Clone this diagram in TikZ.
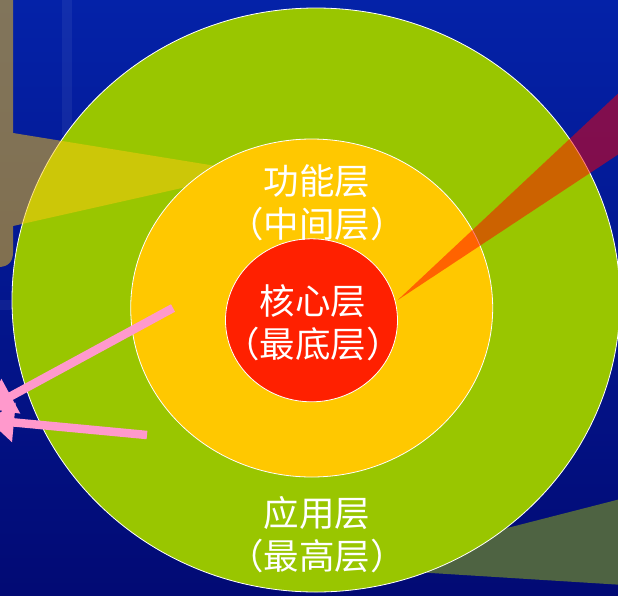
\documentclass[tikz,border=0pt]{standalone}
\usepackage{fontspec}
\newfontfamily\cjk{Noto Sans CJK SC}
\usetikzlibrary{shapes.geometric,arrows.meta}
\definecolor{navytop}{RGB}{4,34,168}
\definecolor{navybot}{RGB}{2,10,116}
\definecolor{lime}{RGB}{153,198,0}
\definecolor{amber}{RGB}{255,200,0}
\definecolor{corered}{RGB}{255,32,0}
\definecolor{gold}{RGB}{255,200,16}
\definecolor{olivegray}{RGB}{78,99,66}
\definecolor{pinkline}{RGB}{255,153,204}
\tikzset{
  layer/.style={ellipse, draw=white, line width=0.8pt, inner sep=0pt},
  label/.style={text=white, align=center, font=\cjk\fontsize{35.5}{43}\selectfont, inner sep=0pt},
  pinkarrow/.style={draw=pinkline, line width=8.5pt, -{Triangle[length=26pt,width=38pt]}},
}
\begin{document}
\begin{tikzpicture}[x=1pt,y=-1pt]
\useasboundingbox (0,0) rectangle (618,595);
\clip (0,0) rectangle (618,595);
% background
\fill[top color=navytop,bottom color=navybot] (0,0) rectangle (618,595);
\fill[white,opacity=0.06] (62,0) rectangle (72,135);
\fill[white,opacity=0.05] (0,300) rectangle (14,310);
% lower right wedge (under the outer layer)
\fill[olivegray] (351,568) -- (640,494) -- (640,586) -- cycle;
% outer layer
\node[layer, fill=lime, minimum width=608pt, minimum height=584pt] (app) at (316,300) {};
% left translucent band
\fill[gold, opacity=0.5] (-2,-2) -- (13,-2) -- (13,133) -- (253,172) -- (13,226) -- (13,252)
  .. controls (13,262) and (8,267) .. (-2,267) -- cycle;
% middle layer
\node[layer, fill=amber, minimum width=362pt, minimum height=338pt] (func) at (311.7,308) {};
% right translucent band
\fill[red, opacity=0.5] (397.8,300) -- (640,73) -- (640,140) -- cycle;
% core
\node[layer, fill=corered, minimum width=172pt, minimum height=163pt] (core) at (311.5,320.3) {};
% labels
\node[label] (tfunc) at (317,202.5) {功能层\\（中间层）};
\node[label] (tcore) at (313,322.5) {核心层\\（最底层）};
\node[label] (tapp) at (317,534.5) {应用层\\（最高层）};
% pink arrows
\coordinate (a1s) at (173,308);
\coordinate (a1e) at (-12,408.6);
\coordinate (a2s) at (147,435);
\coordinate (a2e) at (-12,420);
\draw[pinkarrow] (a1s) -- (a1e);
\draw[pinkarrow] (a2s) -- (a2e);
\end{tikzpicture}
\end{document}
